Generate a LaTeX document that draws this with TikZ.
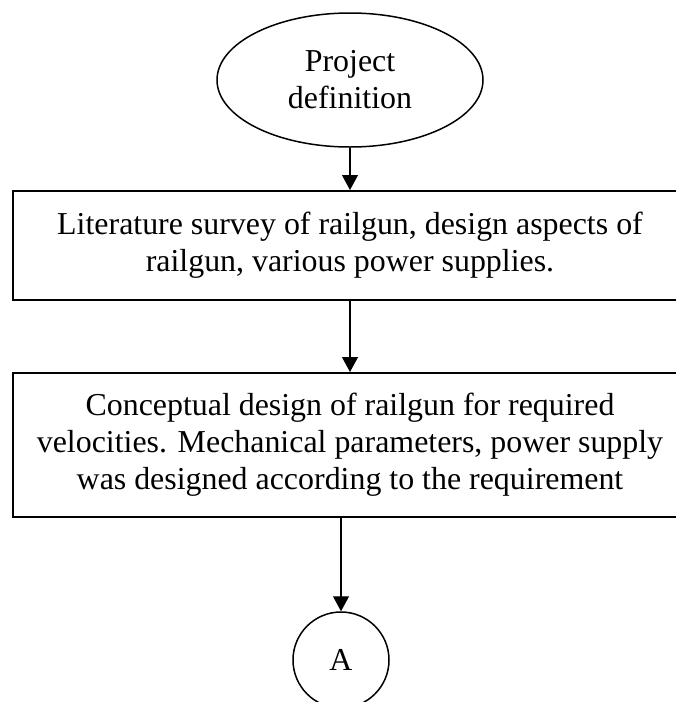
\documentclass[tikz,border=0pt]{standalone}
\usepackage{fontspec}
\setmainfont{Liberation Serif}
\usetikzlibrary{arrows.meta,shapes.geometric}
\begin{document}
\begin{tikzpicture}[x=1pt,y=-1pt,
  every node/.style={font=\fontsize{31.9}{37}\selectfont},
  stepbox/.style={draw,line width=2pt,minimum width=674pt,minimum height=109pt,align=center,inner sep=0pt},
  startnode/.style={draw,ellipse,line width=1.5pt,minimum width=266pt,minimum height=134pt,inner sep=0pt,align=center},
  connector/.style={draw,line width=1.5pt,circle,minimum size=96pt,inner sep=0pt},
  flow/.style={line width=1.2pt,-{Triangle[length=15pt,width=16pt]}}]
\useasboundingbox (0,0) rectangle (676,702);
\node[startnode] (pd) at (350,80) {Project\\definition};
\node[stepbox] (lit) at (350,245.5) {Literature survey of railgun, design aspects of\\railgun, various power supplies.};
\node[stepbox,minimum height=144pt] (cd) at (350,445) {Conceptual design of railgun for required\\velocities. Mechanical parameters, power supply\\was designed according to the requirement};
\node[connector] (A) at (341,660) {A};
\draw[flow] (pd) -- (lit);
\draw[flow] (lit) -- (cd);
\draw[flow] (A.north |- cd.south) -- (A.north);
\end{tikzpicture}
\end{document}
